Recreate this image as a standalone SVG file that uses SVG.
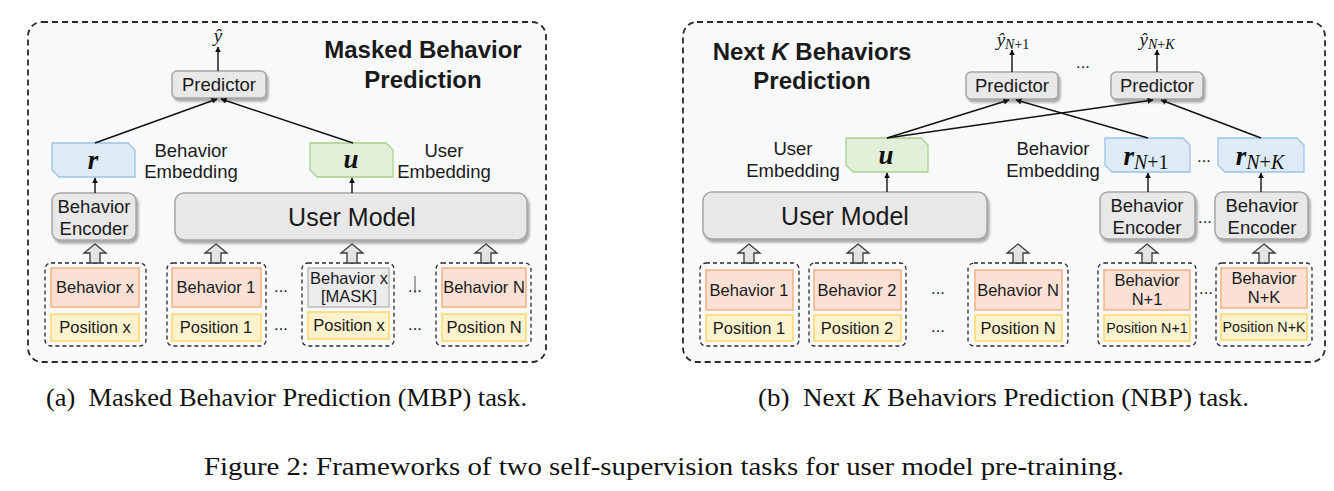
<svg xmlns="http://www.w3.org/2000/svg" width="1334" height="491" viewBox="0 0 1334 491">
<defs>
<filter id="sh" x="-10%" y="-10%" width="130%" height="140%">
<feDropShadow dx="2" dy="3" stdDeviation="1.2" flood-color="#8a8a8a" flood-opacity="0.7"/>
</filter>
<marker id="ah" viewBox="0 0 10 10" refX="9" refY="5" markerWidth="6" markerHeight="6" orient="auto-start-reverse" markerUnits="userSpaceOnUse">
<path d="M0,0 L10,5 L0,10 z" fill="#111"/>
</marker>
<g id="blk">
<polygon points="0,-19 11,-10 5,-10 5,0 -5,0 -5,-10 -11,-10" fill="#e3e3e3" stroke="#3a3a3a" stroke-width="1.3" stroke-linejoin="miter"/>
</g>
</defs>
<style>
.panel{fill:#f8f9fb;stroke:#2a2a2a;stroke-width:1.8;stroke-dasharray:6 4}
.grp{fill:none;stroke:#2a2a2a;stroke-width:1.3;stroke-dasharray:4 3}
.gray{fill:#e8e8e8;stroke:#a6a6a6;stroke-width:1.5}
.beh{fill:#fbe1d5;stroke:#f4b183;stroke-width:1.5}
.pos{fill:#fff2cc;stroke:#ffd966;stroke-width:1.5}
.mask{fill:#ececec;stroke:#bdbdbd;stroke-width:1.5}
.blue{fill:#deebf7;stroke:#9dc3e6;stroke-width:1.3}
.green{fill:#e2f0d9;stroke:#a9d18e;stroke-width:1.3}
.t{font-family:"Liberation Sans",Arial,sans-serif;fill:#1a1a1a;text-anchor:middle}
.s15{font-size:16.5px}
.s17{font-size:18.5px}
.s22{font-size:25px}
.title{font-family:"Liberation Sans",Arial,sans-serif;font-weight:bold;font-size:24px;fill:#1a1a1a;text-anchor:middle}
.m{font-family:"Liberation Serif","Times New Roman",serif;fill:#111;text-anchor:middle}
.cap{font-family:"Liberation Serif","Times New Roman",serif;fill:#111;font-size:26px}
.ln{stroke:#111;stroke-width:1.4;fill:none}
</style>

<!-- ============ Panel (a) ============ -->
<g id="panel-a">
<rect class="panel" x="28" y="22" width="518" height="340" rx="14"/>
<text class="title" x="423" y="58">Masked Behavior</text>
<text class="title" x="423" y="88">Prediction</text>
</g>

<g id="a-yhat"><text class="m" x="218" y="42" font-style="italic" font-size="19">ŷ</text></g>
<g id="a-predictor">
<rect class="gray" x="172" y="71" width="94" height="27" rx="5" filter="url(#sh)"/>
<text class="t s17" x="219" y="91">Predictor</text>
</g>
<g id="a-r">
<path class="blue" d="M52,143 H128 L135,150 V177 H59 L52,170 Z"/>
<text class="m" x="93" y="169" font-weight="bold" font-style="italic" font-size="27">r</text>
</g>
<g id="a-r-label">
<text class="t s17" x="191" y="157">Behavior</text>
<text class="t s17" x="191" y="178">Embedding</text>
</g>
<g id="a-u">
<path class="green" d="M310,143 H386 L393,150 V177 H317 L310,170 Z"/>
<text class="m" x="351" y="168" font-weight="bold" font-style="italic" font-size="27">u</text>
</g>
<g id="a-u-label">
<text class="t s17" x="444" y="157">User</text>
<text class="t s17" x="444" y="178">Embedding</text>
</g>
<g id="a-encoder">
<rect class="gray" x="52" y="193" width="84" height="47" rx="8" filter="url(#sh)"/>
<text class="t s17" x="94" y="213">Behavior</text>
<text class="t s17" x="94" y="235">Encoder</text>
</g>
<g id="a-usermodel">
<rect class="gray" x="175" y="193" width="352" height="47" rx="9" filter="url(#sh)"/>
<text class="t s22" x="352" y="226">User Model</text>
</g>

<g id="a-g1">
<rect class="grp" x="45" y="263" width="101" height="83" rx="6"/>
<rect class="beh" x="51" y="268" width="88" height="39"/>
<text class="t s15" x="95" y="293">Behavior x</text>
<rect class="pos" x="51" y="314" width="88" height="27"/>
<text class="t s15" x="95" y="333">Position x</text>
</g>
<g id="a-g2">
<rect class="grp" x="167" y="263" width="99" height="83" rx="6"/>
<rect class="beh" x="172" y="268" width="89" height="39"/>
<text class="t s15" x="216" y="293">Behavior 1</text>
<rect class="pos" x="172" y="314" width="89" height="27"/>
<text class="t s15" x="216" y="333">Position 1</text>
</g>
<g id="a-g3">
<rect class="grp" x="302" y="263" width="92" height="83" rx="6"/>
<rect class="mask" x="308" y="268" width="81" height="39"/>
<text class="t s15" x="349" y="284">Behavior x</text>
<text class="t s15" x="349" y="302">[MASK]</text>
<rect class="pos" x="308" y="312" width="81" height="27"/>
<text class="t s15" x="349" y="331">Position x</text>
</g>
<g id="a-g4">
<rect class="grp" x="436" y="263" width="95" height="83" rx="6"/>
<rect class="beh" x="442" y="268" width="84" height="39"/>
<text class="t s15" x="484" y="293">Behavior N</text>
<rect class="pos" x="442" y="314" width="84" height="27"/>
<text class="t s15" x="484" y="333">Position N</text>
</g>
<g id="a-dots">
<text class="t s15" x="281" y="292">...</text>
<text class="t s15" x="281" y="330">...</text>
<text class="t s15" x="415" y="292">...</text>
<line x1="415" y1="276" x2="415" y2="293" stroke="#555" stroke-width="1"/>
<text class="t s15" x="415" y="330">...</text>
</g>

<!-- ============ Panel (b) ============ -->
<g id="panel-b">
<rect class="panel" x="683" y="22" width="642" height="340" rx="14"/>
<text class="title" x="812" y="60">Next <tspan font-style="italic">K</tspan> Behaviors</text>
<text class="title" x="812" y="89">Prediction</text>
</g>

<g id="b-yhat1"><text class="m" x="1013" y="46" font-size="19"><tspan font-style="italic">ŷ</tspan><tspan font-size="14" font-style="italic" dy="3">N</tspan><tspan font-size="14">+1</tspan></text></g>
<g id="b-yhatK"><text class="m" x="1157" y="46" font-size="19"><tspan font-style="italic">ŷ</tspan><tspan font-size="14" font-style="italic" dy="3">N</tspan><tspan font-size="14">+</tspan><tspan font-size="14" font-style="italic">K</tspan></text></g>
<g id="b-dots-top"><text class="t s15" x="1083" y="68">...</text></g>
<g id="b-pred1">
<rect class="gray" x="966" y="72" width="92" height="27" rx="5" filter="url(#sh)"/>
<text class="t s17" x="1012" y="92">Predictor</text>
</g>
<g id="b-pred2">
<rect class="gray" x="1111" y="72" width="92" height="27" rx="5" filter="url(#sh)"/>
<text class="t s17" x="1157" y="92">Predictor</text>
</g>
<g id="b-u-label">
<text class="t s17" x="793" y="155">User</text>
<text class="t s17" x="793" y="177">Embedding</text>
</g>
<g id="b-u">
<path class="green" d="M846,138 H921 L928,145 V172 H853 L846,165 Z"/>
<text class="m" x="886" y="164" font-weight="bold" font-style="italic" font-size="27">u</text>
</g>
<g id="b-r-label">
<text class="t s17" x="1053" y="155">Behavior</text>
<text class="t s17" x="1053" y="177">Embedding</text>
</g>
<g id="b-r1">
<path class="blue" d="M1105,138 H1183 L1190,145 V172 H1112 L1105,165 Z"/>
<text class="m" x="1146" y="165" font-size="27"><tspan font-weight="bold" font-style="italic">r</tspan><tspan font-size="20" font-style="italic" dy="4">N</tspan><tspan font-size="20">+1</tspan></text>
</g>
<g id="b-rK">
<path class="blue" d="M1218,138 H1297 L1304,145 V172 H1225 L1218,165 Z"/>
<text class="m" x="1260" y="165" font-size="27"><tspan font-weight="bold" font-style="italic">r</tspan><tspan font-size="20" font-style="italic" dy="4">N</tspan><tspan font-size="20">+</tspan><tspan font-size="20" font-style="italic">K</tspan></text>
</g>
<g id="b-dots-r"><text class="t s15" x="1204" y="162">...</text></g>
<g id="b-usermodel">
<rect class="gray" x="703" y="192" width="284" height="47" rx="9" filter="url(#sh)"/>
<text class="t s22" x="845" y="225">User Model</text>
</g>
<g id="b-enc1">
<rect class="gray" x="1100" y="192" width="95" height="47" rx="8" filter="url(#sh)"/>
<text class="t s17" x="1147" y="212">Behavior</text>
<text class="t s17" x="1147" y="234">Encoder</text>
</g>
<g id="b-enc2">
<rect class="gray" x="1215" y="192" width="93" height="47" rx="8" filter="url(#sh)"/>
<text class="t s17" x="1262" y="212">Behavior</text>
<text class="t s17" x="1262" y="234">Encoder</text>
</g>
<g id="b-dots-enc"><text class="t s15" x="1205" y="223">...</text></g>

<g id="b-g1">
<rect class="grp" x="700" y="263" width="99" height="83" rx="6"/>
<rect class="beh" x="706" y="270" width="87" height="40"/>
<text class="t s15" x="749" y="296">Behavior 1</text>
<rect class="pos" x="706" y="315" width="87" height="26"/>
<text class="t s15" x="749" y="334">Position 1</text>
</g>
<g id="b-g2">
<rect class="grp" x="809" y="263" width="97" height="83" rx="6"/>
<rect class="beh" x="814" y="270" width="87" height="40"/>
<text class="t s15" x="857" y="296">Behavior 2</text>
<rect class="pos" x="814" y="315" width="87" height="26"/>
<text class="t s15" x="857" y="334">Position 2</text>
</g>
<g id="b-g3">
<rect class="grp" x="968" y="263" width="100" height="83" rx="6"/>
<rect class="beh" x="975" y="270" width="87" height="40"/>
<text class="t s15" x="1018" y="296">Behavior N</text>
<rect class="pos" x="975" y="315" width="87" height="26"/>
<text class="t s15" x="1018" y="334">Position N</text>
</g>
<g id="b-g4">
<rect class="grp" x="1098" y="263" width="98" height="83" rx="6"/>
<rect class="beh" x="1104" y="270" width="86" height="40"/>
<text class="t s15" x="1147" y="286">Behavior</text>
<text class="t s15" x="1147" y="305">N+1</text>
<rect class="pos" x="1104" y="315" width="86" height="26"/>
<text class="t" x="1147" y="333" font-size="14.3">Position N+1</text>
</g>
<g id="b-g5">
<rect class="grp" x="1216" y="263" width="96" height="83" rx="6"/>
<rect class="beh" x="1221" y="268" width="86" height="40"/>
<text class="t s15" x="1264" y="284">Behavior</text>
<text class="t s15" x="1264" y="303">N+K</text>
<rect class="pos" x="1221" y="314" width="86" height="26"/>
<text class="t" x="1264" y="332" font-size="14.3">Position N+K</text>
</g>
<g id="b-dots-bottom">
<text class="t s15" x="938" y="294">...</text>
<text class="t s15" x="938" y="332">...</text>
<text class="t s15" x="1206" y="294">...</text>
</g>

<!-- ============ Connectors ============ -->
<g id="connectors">
<line class="ln" x1="218" y1="71" x2="218" y2="47" marker-end="url(#ah)"/>
<line class="ln" x1="95" y1="143" x2="217" y2="99" marker-end="url(#ah)"/>
<line class="ln" x1="353" y1="143" x2="221" y2="99" marker-end="url(#ah)"/>
<line class="ln" x1="95" y1="193" x2="95" y2="178" marker-end="url(#ah)"/>
<line class="ln" x1="352" y1="193" x2="352" y2="178" marker-end="url(#ah)"/>
<use href="#blk" x="95" y="263"/>
<use href="#blk" x="216" y="263"/>
<use href="#blk" x="352" y="263"/>
<use href="#blk" x="486" y="263"/>

<line class="ln" x1="1012" y1="72" x2="1012" y2="50" marker-end="url(#ah)"/>
<line class="ln" x1="1157" y1="72" x2="1157" y2="50" marker-end="url(#ah)"/>
<line class="ln" x1="887" y1="138" x2="1009" y2="100" marker-end="url(#ah)"/>
<line class="ln" x1="887" y1="138" x2="1153" y2="100" marker-end="url(#ah)"/>
<line class="ln" x1="1148" y1="138" x2="1016" y2="100" marker-end="url(#ah)"/>
<line class="ln" x1="1261" y1="138" x2="1161" y2="100" marker-end="url(#ah)"/>
<line class="ln" x1="887" y1="192" x2="887" y2="173" marker-end="url(#ah)"/>
<line class="ln" x1="1148" y1="192" x2="1148" y2="173" marker-end="url(#ah)"/>
<line class="ln" x1="1261" y1="192" x2="1261" y2="173" marker-end="url(#ah)"/>
<use href="#blk" x="749" y="263"/>
<use href="#blk" x="858" y="263"/>
<use href="#blk" x="1018" y="263"/>
<use href="#blk" x="1147" y="263"/>
<use href="#blk" x="1264" y="263"/>
</g>

<!-- ============ Captions ============ -->
<g id="captions">
<text class="cap" x="46" y="406" xml:space="preserve" textLength="481" lengthAdjust="spacingAndGlyphs">(a)  Masked Behavior Prediction (MBP) task.</text>
<text class="cap" x="758" y="406" xml:space="preserve" textLength="491" lengthAdjust="spacingAndGlyphs">(b)  Next <tspan font-style="italic">K</tspan> Behaviors Prediction (NBP) task.</text>
<text class="cap" x="204" y="475" font-size="26.5" textLength="920" lengthAdjust="spacingAndGlyphs">Figure 2: Frameworks of two self-supervision tasks for user model pre-training.</text>
</g>
</svg>
